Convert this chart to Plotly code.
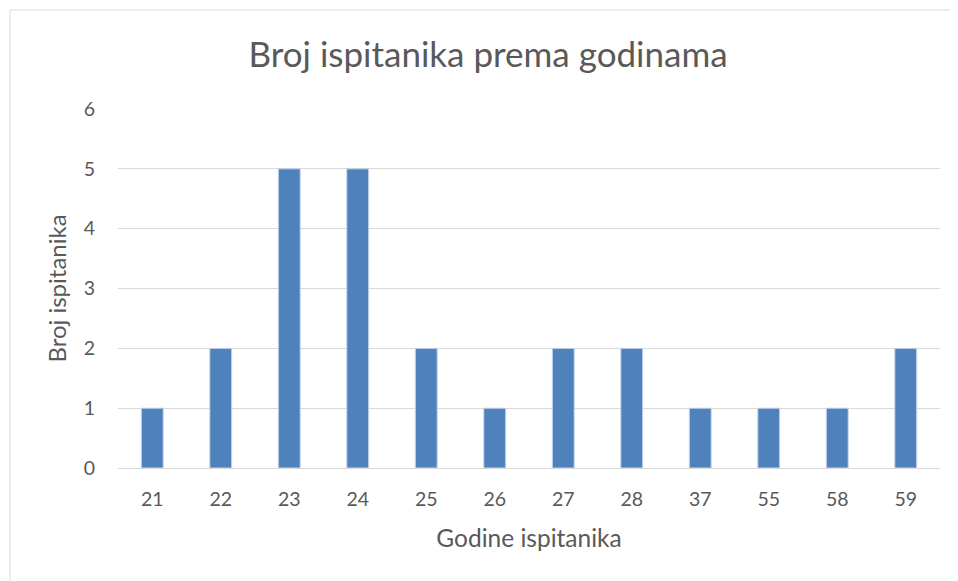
import plotly.graph_objects as go

categories = ["21", "22", "23", "24", "25", "26", "27", "28", "37", "55", "58", "59"]
counts = [1, 2, 5, 5, 2, 1, 2, 2, 1, 1, 1, 2]

title_text = "Broj ispitanika prema godinama"
x_title = "Godine ispitanika"
y_title = "Broj ispitanika"

FONT = "Lato, Carlito, Calibri, sans-serif"
GREY = "#595959"

# page is offset by 8px body margin -> figure is 950x573 visible
W, H = 950, 573
L, R, T, B = 110, 18, 101, 113
PW, PH = W - L - R, H - T - B

fig = go.Figure(go.Bar(
    x=categories, y=counts,
    marker=dict(color="#4f81bd", line=dict(color="#c9d7ec", width=1)),
    width=0.32,
))

fig.update_layout(
    width=W, height=H,
    margin=dict(l=L, r=R, t=T, b=B),
    paper_bgcolor="white", plot_bgcolor="white",
    font=dict(family=FONT, color=GREY, size=18),
    title=dict(text=title_text, x=480 / W, xref="container", xanchor="center",
               y=1 - 47 / H, yref="container", yanchor="middle",
               font=dict(size=35, color=GREY, family=FONT)),
    showlegend=False,
    xaxis=dict(type="category", showgrid=False, showline=True, linecolor="#d9d9d9", linewidth=1,
               ticks="", ticklabelstandoff=14, tickfont=dict(size=19.5, color=GREY),
               title=dict(text=x_title, font=dict(size=24.5, color=GREY), standoff=20)),
    yaxis=dict(range=[0, 6], dtick=1, showgrid=True, gridcolor="#d9d9d9", gridwidth=1,
               zeroline=False, showline=False, ticks="", ticklabelstandoff=22,
               tickfont=dict(size=19.5, color=GREY),
               title=dict(text=y_title, font=dict(size=24, color=GREY), standoff=10)),
    shapes=[dict(type="rect", xref="paper", yref="paper",
                 x0=(2 - L) / PW, x1=1 + 40 / PW, y0=-(B + 40) / PH, y1=1 + (T - 2) / PH,
                 line=dict(color="#d9d9d9", width=1), fillcolor="rgba(0,0,0,0)", layer="below")],
)

fig.write_html("out.html")
